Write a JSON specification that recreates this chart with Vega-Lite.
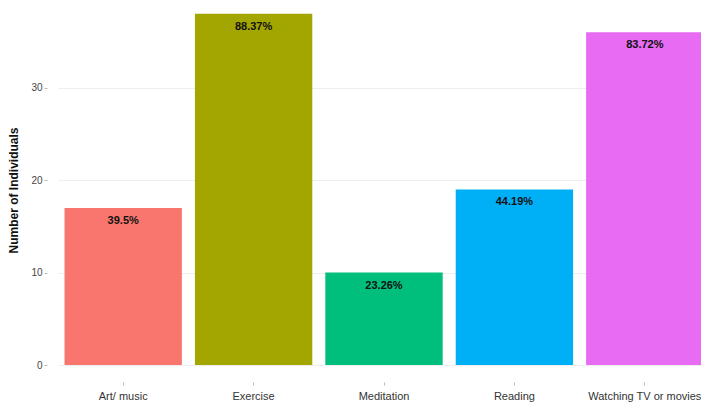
{
  "$schema": "https://vega.github.io/schema/vega-lite/v6.json",
  "autosize": "none",
  "width": 652,
  "height": 365,
  "padding": {"left": 58, "top": 0, "right": 0, "bottom": 39},
  "background": "white",
  "config": {"view": {"stroke": null}, "font": "Liberation Sans"},
  "data": {
    "values": [
      {"activity": "Art/ music", "count": 17, "label": "39.5%"},
      {"activity": "Exercise", "count": 38, "label": "88.37%"},
      {"activity": "Meditation", "count": 10, "label": "23.26%"},
      {"activity": "Reading", "count": 19, "label": "44.19%"},
      {"activity": "Watching TV or movies", "count": 36, "label": "83.72%"}
    ]
  },
  "encoding": {
    "x": {
      "field": "activity", "type": "nominal", "sort": null,
      "scale": {"paddingInner": 0.1, "paddingOuter": 0.05},
      "axis": {"title": null, "labelAngle": 0, "domain": false, "tickColor": "#bbbbbb", "tickSize": 3, "offset": 17, "labelFontSize": 11, "labelColor": "#333333", "labelPadding": 5}
    },
    "y": {
      "field": "count", "type": "quantitative",
      "scale": {"domain": [0, 39.5], "nice": false},
      "axis": {"title": "Number of Individuals", "values": [0, 10, 20, 30], "domain": false, "tickColor": "#bbbbbb", "tickSize": 3, "offset": 11, "labelFontSize": 10, "labelColor": "#444444", "labelPadding": 2, "gridColor": "#eeeeee", "titleFontSize": 12, "titleFontWeight": "bold", "titleColor": "#111111", "titlePadding": 10, "titleY": 190}
    }
  },
  "layer": [
    {
      "mark": {"type": "bar"},
      "encoding": {
        "color": {
          "field": "activity", "type": "nominal", "legend": null, "sort": null,
          "scale": {"range": ["#F8766D", "#A3A500", "#00BF7D", "#00B0F6", "#E76BF3"]}
        }
      }
    },
    {
      "mark": {"type": "text", "baseline": "middle", "dy": 13, "fontWeight": "bold", "fontSize": 11, "color": "#111111"},
      "encoding": {"text": {"field": "label"}}
    }
  ]
}
